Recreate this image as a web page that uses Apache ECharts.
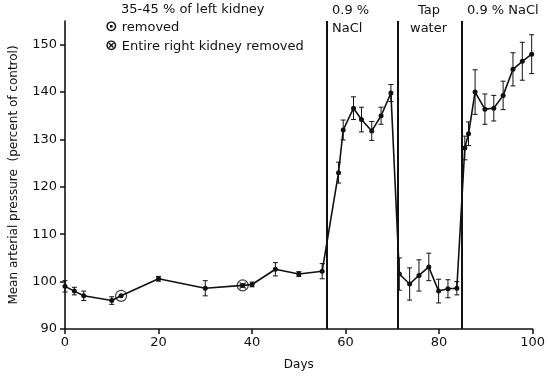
<!DOCTYPE html>
<html>
<head>
<meta charset="utf-8">
<script src="https://cdn.jsdelivr.net/npm/echarts@6/dist/echarts.min.js"></script>
<style>html,body{margin:0;padding:0;background:#fff;}#c{width:548px;height:376px;}</style>
</head>
<body>
<div id="c"></div>
<script>
var days = [0,2,4,10,12,20,30,38,40,45,50,55,58.5,59.5,61.7,63.4,65.6,67.6,69.7,71.5,73.7,75.7,77.8,79.9,81.9,83.8,85.5,86.3,87.7,89.8,91.7,93.7,95.8,97.8,99.8];
var pressure = [99,98,97,96,97,100.6,98.6,99.2,99.4,102.6,101.6,102.2,123,132,136.6,134.2,131.8,135,139.8,101.6,99.5,101.3,103.1,98,98.5,98.6,128.2,131.2,140,136.4,136.6,139.3,144.8,146.5,148];
var errors = [1.2,0.8,1,0.8,0,0.5,1.6,0,0.5,1.4,0.5,1.6,2.2,2.1,2.4,2.6,2,1.8,1.8,3.4,3.4,3.3,2.9,2.5,1.9,1.4,2.5,2.5,4.7,3.2,2.7,3,3.5,4,4.1];
var leftKidneyDay = 12;
var rightKidneyDay = 38;
var phaseLines = [56, 71.2, 84.8];
var yTicks = [90,100,110,120,130,140,150];

var ink = '#111';
var font = 'DejaVu Sans';

var lineData = days.map(function(d,i){ return [d, pressure[i]]; });
var errData = days.map(function(d,i){ return [d, pressure[i]-errors[i], pressure[i]+errors[i]]; }).filter(function(r){return r[2]-r[1]>0;});
var leftIdx = days.indexOf(leftKidneyDay);
var rightIdx = days.indexOf(rightKidneyDay);

var txt = {fontFamily: font, fontSize: 13, fill: ink};
var rich = {s: {fontFamily: font, fontSize: 15, fontWeight: 'bold', fill: ink}, t: {fontFamily: font, fontSize: 13, fill: ink}};

var chart = echarts.init(document.getElementById('c'), null, {renderer:'canvas'});
chart.setOption({
  animation: false,
  backgroundColor: '#fff',
  grid: {left: 64, right: 11, top: 21, bottom: 46},
  xAxis: {
    type: 'value', min: 0, max: 100, interval: 20,
    name: 'Days', nameLocation: 'middle', nameGap: 30,
    nameTextStyle: {fontFamily: font, fontSize: 12, color: ink},
    axisLine: {lineStyle: {color: ink, width: 1.6}},
    axisTick: {show: true, length: 5, lineStyle: {color: ink, width: 1.5}},
    axisLabel: {fontFamily: font, fontSize: 13, color: ink, margin: 7},
    splitLine: {show: false}
  },
  yAxis: {
    type: 'value', min: 90, max: 155,
    name: 'Mean arterial pressure  (percent of control)', nameLocation: 'middle', nameGap: 45,
    nameTextStyle: {fontFamily: font, fontSize: 12, color: ink},
    axisLine: {show: true, lineStyle: {color: ink, width: 1.6}},
    axisTick: {show: true, length: 5, customValues: yTicks, lineStyle: {color: ink, width: 1.5}},
    axisLabel: {fontFamily: font, fontSize: 13, color: ink, margin: 8, customValues: yTicks},
    splitLine: {show: false}
  },
  series: [
    {
      type: 'custom',
      data: errData,
      z: 3,
      renderItem: function(params, api){
        var x = api.value(0);
        var lo = api.coord([x, api.value(1)]);
        var hi = api.coord([x, api.value(2)]);
        var w = 2.5;
        var st = {stroke: ink, lineWidth: 1};
        return {type: 'group', children: [
          {type:'line', shape:{x1:lo[0],y1:lo[1],x2:hi[0],y2:hi[1]}, style: st},
          {type:'line', shape:{x1:lo[0]-w,y1:lo[1],x2:lo[0]+w,y2:lo[1]}, style: st},
          {type:'line', shape:{x1:hi[0]-w,y1:hi[1],x2:hi[0]+w,y2:hi[1]}, style: st}
        ]};
      }
    },
    {
      type: 'line',
      data: lineData,
      z: 4,
      symbol: 'circle', symbolSize: 5,
      itemStyle: {color: ink},
      lineStyle: {color: ink, width: 1.6},
      markLine: {
        silent: true, symbol: 'none',
        label: {show: false},
        lineStyle: {color: ink, width: 2, type: 'solid'},
        data: phaseLines.map(function(v){ return {xAxis: v}; })
      }
    },
    {
      type: 'scatter',
      data: [[days[leftIdx], pressure[leftIdx]], [days[rightIdx], pressure[rightIdx]]],
      z: 5,
      symbol: 'circle', symbolSize: 11,
      itemStyle: {color: 'rgba(0,0,0,0)', borderColor: ink, borderWidth: 1.2}
    },
    {
      type: 'scatter',
      data: [[days[rightIdx], pressure[rightIdx]]],
      z: 6,
      symbol: 'path://M0,0L10,10M10,0L0,10', symbolSize: 6,
      itemStyle: {color: 'none', borderColor: ink, borderWidth: 1.5}
    }
  ],
  graphic: [
    {type:'text', left: 121, top: 3, style:Object.assign({text:'35-45 % of left kidney'}, txt)},
    {type:'text', left: 105, top: 20, style:{text:'{s|⊙}{t| removed}', rich: rich}},
    {type:'text', left: 105, top: 39, style:{text:'{s|⊗}{t| Entire right kidney removed}', rich: rich}},
    {type:'text', left: 332, top: 4, style:Object.assign({text:'0.9 %'}, txt)},
    {type:'text', left: 332, top: 22, style:Object.assign({text:'NaCl'}, txt)},
    {type:'text', left: 418, top: 4, style:Object.assign({text:'Tap'}, txt)},
    {type:'text', left: 410, top: 22, style:Object.assign({text:'water'}, txt)},
    {type:'text', left: 467, top: 4, style:Object.assign({text:'0.9 % NaCl'}, txt)}
  ]
});
</script>
</body>
</html>
